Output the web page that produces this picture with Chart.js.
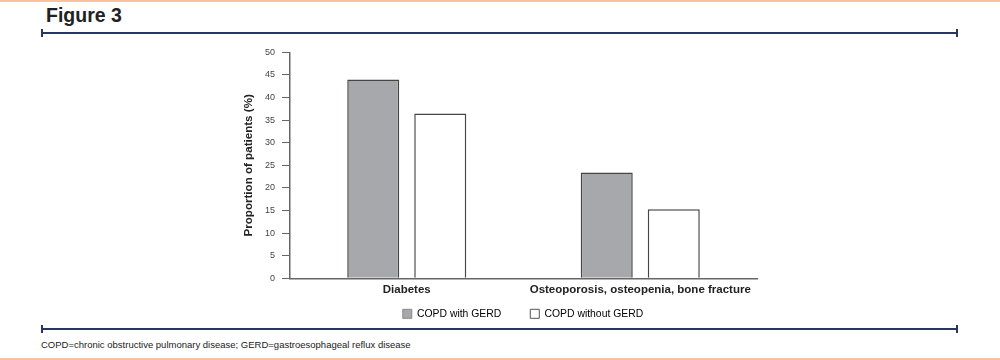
<!DOCTYPE html>
<html>
<head>
<meta charset="utf-8">
<script src="https://cdn.jsdelivr.net/npm/chart.js@4.4.1/dist/chart.umd.min.js"></script>
<style>
  body { margin: 0; width: 1000px; height: 360px; background: #fff; position: relative; overflow: hidden;
         font-family: "Liberation Sans", Arial, sans-serif; }
  .orange { position: absolute; left: 0; width: 1000px; height: 2px; background: #f8c39f; }
  .rule { position: absolute; left: 41px; width: 917px; height: 2px; background: #2b3563; }
  .rule::before, .rule::after { content: ''; position: absolute; top: -3px; width: 2px; height: 8px; background: #2b3563; }
  .rule::before { left: 0; }
  .rule::after { right: 0; }
  #title { position: absolute; left: 46px; top: 4px; font-size: 19.5px; font-weight: bold; color: #222; }
  #note { position: absolute; left: 41px; top: 339px; font-size: 9.5px; color: #222; }
  #wrap { position: absolute; left: 230px; top: 40px; width: 586px; height: 320px; }
</style>
</head>
<body>
<div class="orange" style="top:0"></div>
<div class="orange" style="top:358px"></div>
<div id="title">Figure 3</div>
<div class="rule" style="top:32px"></div>
<div class="rule" style="top:328px"></div>
<div id="note">COPD=chronic obstructive pulmonary disease; GERD=gastroesophageal reflux disease</div>
<div id="wrap"><canvas id="chart" width="586" height="320"></canvas></div>
<script>
const categories = ['Diabetes', 'Osteoporosis, osteopenia, bone fracture'];
const withGerd = [44, 23.4];
const withoutGerd = [36.5, 15.3];
const yTicks = [0, 5, 10, 15, 20, 25, 30, 35, 40, 45, 50];

// legend padding also sets the horizontal gap, so pull the legend up a bit afterwards
const legendShift = {
    id: 'legendShift',
    afterLayout(chart) {
        chart.legend.top -= 21.5;
        chart.legend.bottom -= 21.5;
    }
};

const ctx = document.getElementById('chart').getContext('2d');
new Chart(ctx, {
    type: 'bar',
    data: {
        labels: categories,
        datasets: [{
            label: 'COPD with GERD',
            data: withGerd,
            backgroundColor: '#a7a8ac',
            borderColor: '#454545',
            borderWidth: 1.5
        }, {
            label: 'COPD without GERD',
            data: withoutGerd,
            backgroundColor: '#ffffff',
            borderColor: '#454545',
            borderWidth: 1.5
        }]
    },
    options: {
        responsive: false,
        animation: false,
        categoryPercentage: 0.574,
        barPercentage: 0.776,
        layout: { padding: { top: 4, right: 0, bottom: 9.5, left: 0 } },
        scales: {
            y: {
                min: 0,
                max: 50,
                afterBuildTicks: function(scale) {
                    scale.ticks = yTicks.map(v => ({ value: v }));
                },
                afterFit: function(scale) { scale.width = 60; },
                grid: { drawOnChartArea: false, tickLength: 8, color: '#666', lineWidth: 1 },
                border: { color: '#666', width: 1.5 },
                ticks: { color: '#444', font: { family: 'Liberation Sans', size: 9 }, padding: 7 },
                title: {
                    display: true,
                    text: 'Proportion of patients (%)',
                    color: '#222',
                    font: { family: 'Liberation Sans', size: 11.6, weight: 'bold' },
                    padding: { top: 12, bottom: 0 }
                }
            },
            x: {
                grid: { display: false, drawTicks: false },
                border: { color: '#666', width: 1.5 },
                ticks: { color: '#222', font: { family: 'Liberation Sans', size: 11.5, weight: 'bold' }, padding: 4.5, autoSkip: false, maxRotation: 0 }
            },
            // empty axis on the right that only keeps space so the legend centres under the plot
            spacer: {
                position: 'right',
                afterFit: function(scale) { scale.width = 59; },
                grid: { display: false },
                border: { display: false },
                ticks: { display: false }
            }
        },
        plugins: {
            legend: {
                position: 'bottom',
                labels: {
                    boxWidth: 9,
                    boxHeight: 9,
                    padding: 29,
                    color: '#333',
                    font: { family: 'Liberation Sans', size: 10.4 },
                    generateLabels: function(chart) {
                        return chart.data.datasets.map((ds, i) => ({
                            text: ds.label,
                            fillStyle: i === 0 ? '#a7a8ac' : '#ffffff',
                            strokeStyle: i === 0 ? '#8a8a8a' : '#555',
                            lineWidth: 1,
                            datasetIndex: i
                        }));
                    }
                }
            },
            tooltip: { enabled: false }
        }
    },
    plugins: [legendShift]
});
</script>
</body>
</html>
